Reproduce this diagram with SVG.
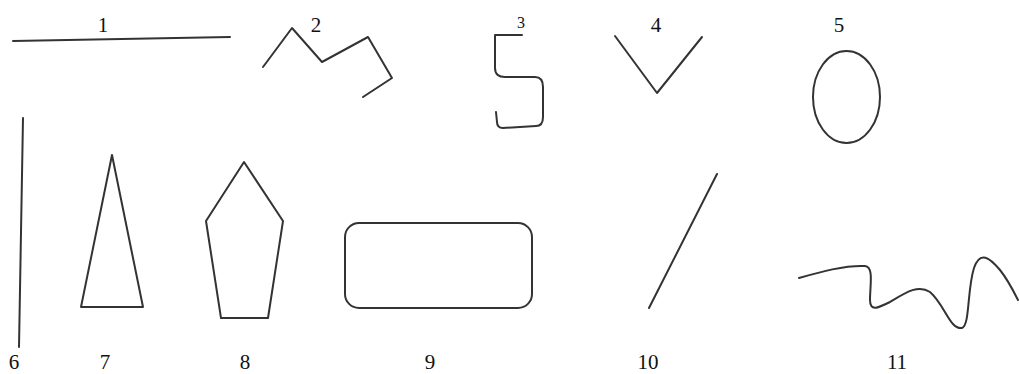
<svg xmlns="http://www.w3.org/2000/svg" width="1019" height="374" viewBox="0 0 1019 374">
<style>
.s{fill:none;stroke:#333;stroke-width:2;stroke-linejoin:round;stroke-linecap:round}
.t{font-family:"Liberation Serif",serif;font-size:21px;fill:#111;text-anchor:middle}
</style>
<rect width="1019" height="374" fill="#fff"/>
<g id="n1"><line class="s" x1="13" y1="41" x2="230" y2="37"/><text class="t" x="103" y="32">1</text></g>
<g id="n2"><polyline class="s" points="263,67 292,28 322,62 368,37 392,78 363,97"/><text class="t" x="316" y="32">2</text></g>
<g id="n3"><path class="s" d="M522,35 L495,35 L495,68 Q495,77 505,77 L535,77 Q543,77 543,87 L543,117 Q543,126 536,126 L503,128 Q497,128 497,122 L496,112"/><text class="t" x="521" y="28" style="font-size:16px">3</text></g>
<g id="n4"><polyline class="s" points="615,36 657,93 702,37"/><text class="t" x="656" y="32">4</text></g>
<g id="n5"><ellipse class="s" cx="846.5" cy="97" rx="33.5" ry="46"/><text class="t" x="839" y="32">5</text></g>
<g id="n6"><line class="s" x1="23" y1="118" x2="19" y2="347"/><text class="t" x="14" y="369">6</text></g>
<g id="n7"><polygon class="s" points="112,155 81,307 143,307"/><text class="t" x="105" y="369">7</text></g>
<g id="n8"><polygon class="s" points="244,162 283,221 268,318 221,318 206,221"/><text class="t" x="245" y="369">8</text></g>
<g id="n9"><rect class="s" x="345" y="223" width="187" height="85" rx="14"/><text class="t" x="430" y="369">9</text></g>
<g id="n10"><line class="s" x1="717" y1="174" x2="649" y2="308"/><text class="t" x="648" y="369">10</text></g>
<g id="n11"><path class="s" d="M799,278 C820,272 845,265 865,266 C874,267 870,285 870,300 C870,312 878,308 890,302 C905,293 918,284 930,292 C945,305 950,330 962,328 C970,325 967,290 974,268 C980,250 990,258 1000,270 C1008,280 1014,292 1018,300"/><text class="t" x="897" y="369">11</text></g>
<g id="connectors"></g>
</svg>
